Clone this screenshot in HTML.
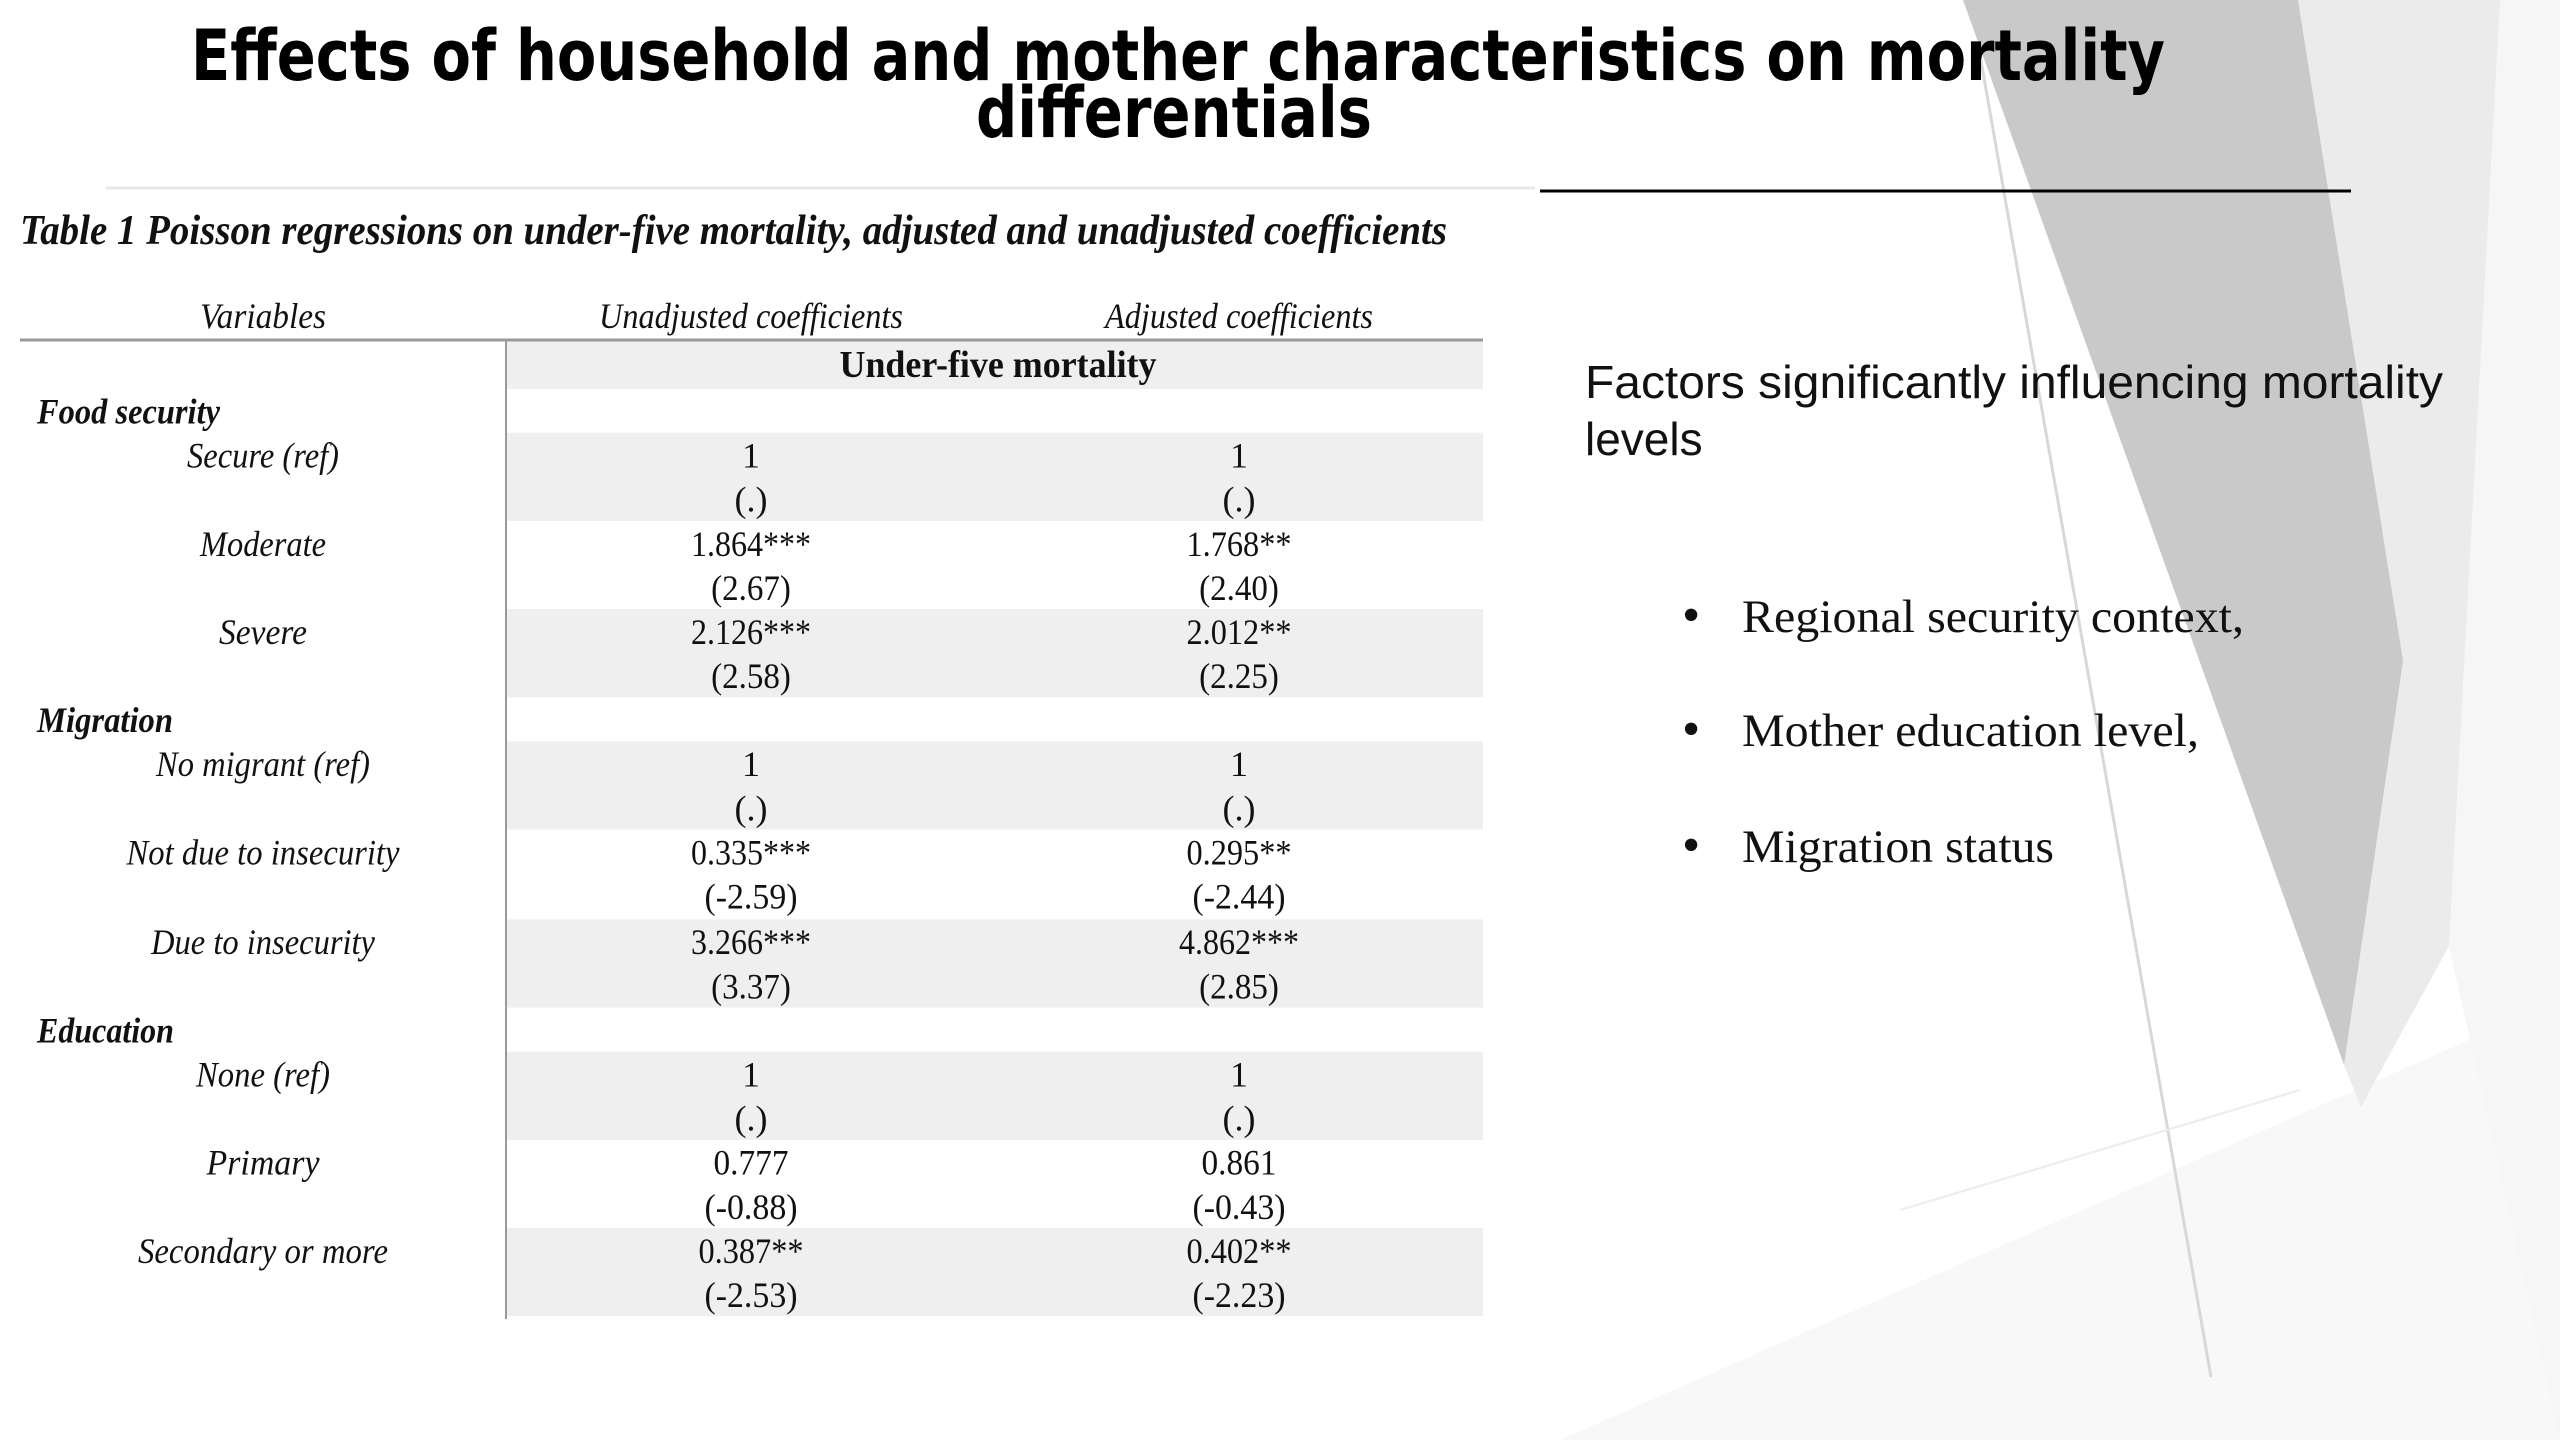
<!DOCTYPE html>
<html><head><meta charset="utf-8"><style>
html,body{margin:0;padding:0;background:#fff}
svg{display:block}
.t{font-family:"DejaVu Sans","Liberation Sans",sans-serif;font-weight:bold;font-size:70px;fill:#000}
.s{font-family:"Liberation Serif",serif;fill:#111}
</style></head><body>
<svg id="slide" width="2560" height="1440" viewBox="0 0 2560 1440" xmlns="http://www.w3.org/2000/svg">
<g>
 <polygon points="1560,1440 2560,1000 2560,1440" fill="#f8f8f8"/>
 <polygon points="2500,0 2560,0 2560,1440 2449,946" fill="#f6f6f6"/>
 <polygon points="2298,0 2500,0 2449,946 2361,1107 2344,1065 2403,661" fill="#ebebeb"/>
 <polygon points="1963,0 2298,0 2403,661 2344,1065" fill="#c9c9c9"/>
 <line x1="1980" y1="55" x2="2211" y2="1377" stroke="#d8d8d8" stroke-width="3"/>
 <line x1="1900" y1="1210" x2="2300" y2="1090" stroke="#ececec" stroke-width="2"/>
</g>
<g>
 <text class="t" x="1178" y="80" text-anchor="middle" textLength="1974" lengthAdjust="spacingAndGlyphs">Effects of household and mother characteristics on mortality</text>
 <text class="t" x="1174" y="137" text-anchor="middle" textLength="396" lengthAdjust="spacingAndGlyphs">differentials</text>
</g>
<line x1="106" y1="188" x2="1535" y2="188" stroke="#e8e8e8" stroke-width="3"/>
<line x1="1540" y1="191" x2="2351" y2="191" stroke="#000" stroke-width="3"/>
<text class="s" x="20" y="244" font-size="42" font-style="italic" font-weight="bold" textLength="1427" lengthAdjust="spacingAndGlyphs">Table 1 Poisson regressions on under-five mortality, adjusted and unadjusted coefficients</text>
<g id="table"></g>
<g>
 <text x="1585" y="398" font-family="Liberation Sans,sans-serif" font-size="46" fill="#111" textLength="858" lengthAdjust="spacingAndGlyphs">Factors significantly influencing mortality</text>
 <text x="1585" y="455" font-family="Liberation Sans,sans-serif" font-size="46" fill="#111">levels</text>
 <g id="bullets"></g>
</g>
</svg>
<script>
const labels=["Food security","Secure (ref)","Moderate","Severe","Migration","No migrant (ref)","Not due to insecurity","Due to insecurity","Education","None (ref)","Primary","Secondary or more"];
const unadjCoef=["","1","1.864***","2.126***","","1","0.335***","3.266***","","1","0.777","0.387**"];
const unadjZ=["","(.)","(2.67)","(2.58)","","(.)","(-2.59)","(3.37)","","(.)","(-0.88)","(-2.53)"];
const adjCoef=["","1","1.768**","2.012**","","1","0.295**","4.862***","","1","0.861","0.402**"];
const adjZ=["","(.)","(2.40)","(2.25)","","(.)","(-2.44)","(2.85)","","(.)","(-0.43)","(-2.23)"];
const bulletItems=["Regional security context,","Mother education level,","Migration status"];
const NS="http://www.w3.org/2000/svg";
const tb=document.getElementById('table');
function mk(tag,attrs,txt,parent){const e=document.createElementNS(NS,tag);for(const k in attrs)e.setAttribute(k,attrs[k]);if(txt!==undefined)e.textContent=txt;(parent||tb).appendChild(e);return e;}
const S=1.633;
const col1=751,col2=1239,labX=263;
let h=mk('text',{class:'s',x:labX,y:328,'font-size':36,'font-style':'italic','text-anchor':'middle',textLength:126,lengthAdjust:'spacingAndGlyphs'},'Variables');


h=mk('text',{class:'s',x:col1,y:328,'font-size':36,'font-style':'italic','text-anchor':'middle',textLength:304,lengthAdjust:'spacingAndGlyphs'},'Unadjusted coefficients');


h=mk('text',{class:'s',x:col2,y:328,'font-size':36,'font-style':'italic','text-anchor':'middle',textLength:268,lengthAdjust:'spacingAndGlyphs'},'Adjusted coefficients');


mk('rect',{x:506,y:341,width:977,height:48,fill:'#efefef'});
h=mk('text',{class:'s',x:998,y:377,'font-size':38,'font-weight':'bold','text-anchor':'middle',textLength:317,lengthAdjust:'spacingAndGlyphs'},'Under-five mortality');


const rowCenters=[252,279,333,387,441,468,522,577,631,658,712,766];
const labWidths=[183,152,126,88,136,214,273,224,137,134,113,250];
labels.forEach((l,i)=>{
  const cy=rowCenters[i]*S;
  const group=l==="Food security"||l==="Migration"||l==="Education";
  if([1,3,5,7,9,11].includes(i)){
    const r=mk('rect',{x:506,y:(rowCenters[i]-14)*S,width:977,height:54*S,fill:'#efefef'});
    
    
  }
  let t=mk('text',{class:'s',x:group?37:labX,y:cy+12,'font-size':36,'font-style':'italic','font-weight':group?'bold':'normal','text-anchor':group?'start':'middle',textLength:labWidths[i],lengthAdjust:'spacingAndGlyphs'},l);
  
  
  if(group) return;
  [[col1,unadjCoef[i],unadjZ[i]],[col2,adjCoef[i],adjZ[i]]].forEach(([x,c,z])=>{
    const a={class:'s',x:x,y:cy+12,'font-size':36,'text-anchor':'middle'};
    if(c.length>2){a.textLength=c.length*15;a.lengthAdjust='spacingAndGlyphs';}
    let e=mk('text',a,c);
    
    
    const b={class:'s',x:x,y:cy+27*S+12,'font-size':36,'text-anchor':'middle'};
    if(z.length>3){b.textLength=z.length*13.3;b.lengthAdjust='spacingAndGlyphs';}
    e=mk('text',b,z);
    
    
  });
});
tb.querySelectorAll('rect').forEach(r=>tb.insertBefore(r,tb.firstChild));
let ln=mk('line',{x1:20,y1:340,x2:1483,y2:340,stroke:'#999','stroke-width':3});


ln=mk('line',{x1:506,y1:340,x2:506,y2:1319,stroke:'#999','stroke-width':2});


const bg=document.getElementById('bullets');
const bw=[502,457,312];
bulletItems.forEach((b,i)=>{
  const y=[617,731,847][i]+15;
  let d=mk('text',{x:1682,y:y,'font-family':'Liberation Serif,serif','font-size':52,fill:'#111'},'•',bg);
  
  
  let t=mk('text',{x:1742,y:y,'font-family':'Liberation Serif,serif','font-size':47,fill:'#111',textLength:bw[i],lengthAdjust:'spacingAndGlyphs'},b,bg);
  
  
});
</script>
</body></html>
